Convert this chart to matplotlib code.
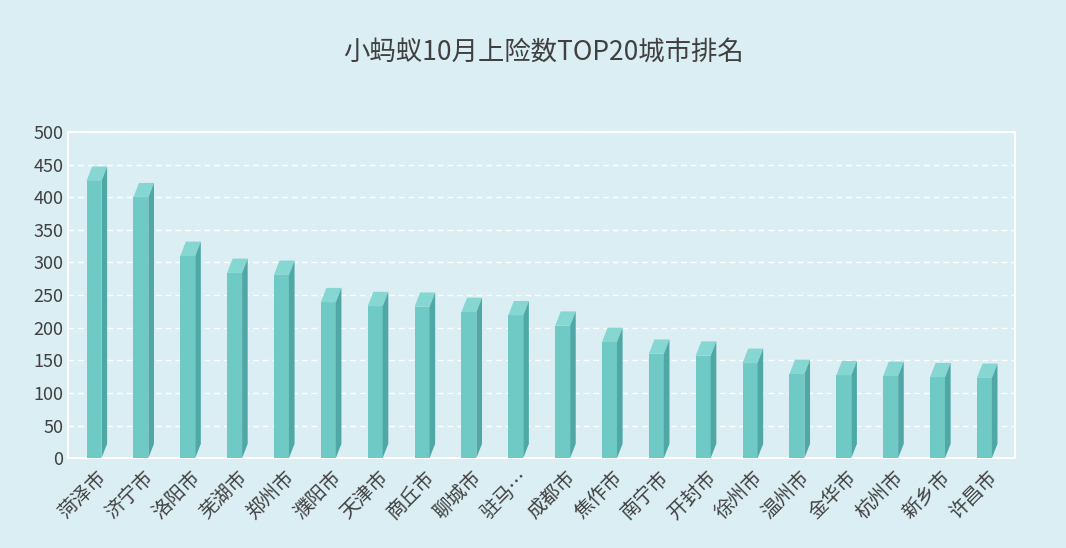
import matplotlib
matplotlib.use("Agg")
import matplotlib.pyplot as plt
from matplotlib.patches import Polygon

plt.rcParams["font.family"] = ["Noto Sans CJK JP", "Noto Sans CJK SC", "DejaVu Sans"]

cities = ["菏泽市","济宁市","洛阳市","芜湖市","郑州市","濮阳市","天津市","商丘市","聊城市","驻马…",
          "成都市","焦作市","南宁市","开封市","徐州市","温州市","金华市","杭州市","新乡市","许昌市"]
values = [425,400,310,284,281,239,233,232,224,219,203,178,160,157,146,129,127,126,124,123]
yticks = [0,50,100,150,200,250,300,350,400,450,500]

bg = "#daeef3"
fig = plt.figure(figsize=(10.66,5.48), dpi=100, facecolor=bg)
ax = fig.add_axes([0.064, 0.164, 0.888, 0.595], facecolor=bg)

w = 0.32
dx, dy = 0.12, 22
for i, v in enumerate(values):
    x0 = i - w/2 - 0.05
    ax.bar(x0 + w/2, v, width=w, color="#6fcac6", edgecolor="none", zorder=3)
    ax.add_patch(Polygon([(x0, v), (x0+w, v), (x0+w+dx, v+dy), (x0+dx, v+dy)],
                         closed=True, color="#86d6d2", zorder=3, lw=0))
    ax.add_patch(Polygon([(x0+w, 0), (x0+w+dx, dy), (x0+w+dx, v+dy), (x0+w, v)],
                         closed=True, color="#4fa8a5", zorder=3, lw=0))

ax.set_xlim(-0.6, 19.6)
ax.set_ylim(0, 500)
ax.set_yticks(yticks)
ax.set_xticks(range(len(cities)))
ax.set_xticklabels(cities, rotation=45, ha="right", rotation_mode="anchor",
                   fontsize=14, color="#404040")
ax.tick_params(axis="y", labelsize=13, labelcolor="#404040", length=0)
ax.tick_params(axis="x", length=0, pad=6)
ax.grid(axis="y", color="white", linestyle=(0, (4, 3)), lw=1, zorder=0)
for s in ["top", "right", "left", "bottom"]:
    ax.spines[s].set_color("white")
    ax.spines[s].set_linewidth(1.5)

fig.text(0.51, 0.905, "小蚂蚁10月上险数TOP20城市排名", ha="center", va="center",
         fontsize=19, color="#404040")

fig.savefig("out.png", dpi=100, facecolor=bg)
